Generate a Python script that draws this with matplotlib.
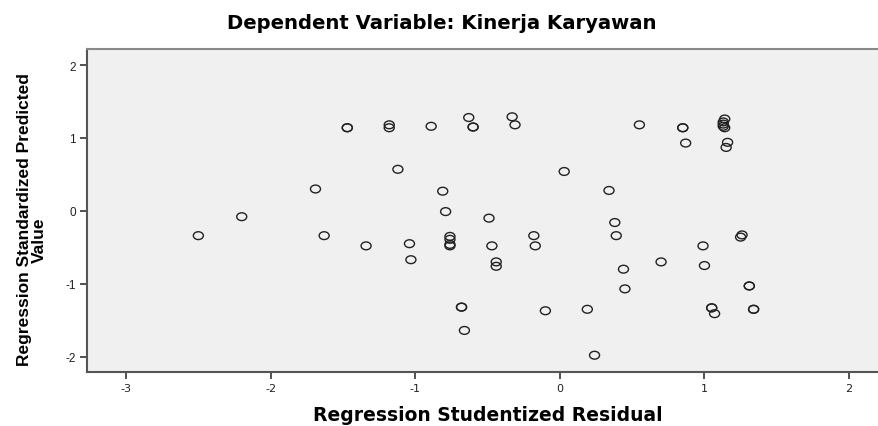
import matplotlib
matplotlib.use("Agg")
import matplotlib.pyplot as plt
from matplotlib.path import Path
from matplotlib.transforms import Affine2D

plt.rcParams['font.family'] = ['Liberation Sans', 'DejaVu Sans']

title = "Dependent Variable: Kinerja Karyawan"
x_label = "Regression Studentized Residual"
y_label_1 = "Regression Standardized Predicted"
y_label_2 = "Value"
x_ticks = [-3, -2, -1, 0, 1, 2]
y_ticks = [-2, -1, 0, 1, 2]

residual = [
    -1.47, -1.47, -1.18, -1.18, -0.89, -0.63, -0.60, -0.60,
    -1.12, -1.69, -0.81, -0.79, -2.20, -2.50, -1.63,
    -0.76, -0.76, -0.76, -0.76,
    -0.33, -0.31, 0.55, 0.85, 0.85, 0.87,
    1.14, 1.13, 1.13, 1.13, 1.14, 1.16, 1.15,
    0.03, 0.34, -0.49, 0.38, -0.18, 0.39, 1.26, 1.25,
    -1.34, -1.04, -1.03, -0.68, -0.68, -0.66,
    -0.47, -0.17, -0.44, -0.44, 0.44, 0.45, 0.70, 0.99, 1.00,
    1.31, 1.31, 1.34, 1.34, 1.05, 1.05, 1.07, -0.10, 0.19, 0.24,
]
predicted = [
    1.14, 1.14, 1.18, 1.14, 1.16, 1.28, 1.15, 1.15,
    0.57, 0.30, 0.27, -0.01, -0.08, -0.34, -0.34,
    -0.35, -0.39, -0.46, -0.48,
    1.29, 1.18, 1.18, 1.14, 1.14, 0.93,
    1.26, 1.22, 1.19, 1.16, 1.14, 0.94, 0.87,
    0.54, 0.28, -0.10, -0.16, -0.34, -0.34, -0.33, -0.36,
    -0.48, -0.45, -0.67, -1.32, -1.32, -1.64,
    -0.48, -0.48, -0.70, -0.76, -0.80, -1.07, -0.70, -0.48, -0.75,
    -1.03, -1.03, -1.35, -1.35, -1.33, -1.33, -1.41, -1.37, -1.35, -1.98,
]

W, H = 879, 427
fig = plt.figure(figsize=(W / 100, H / 100), dpi=100)
left, right, top, bottom = 87, 891, 50, 373
ax = fig.add_axes([left / W, 1 - bottom / H, (right - left) / W, (bottom - top) / H])
ax.set_facecolor('#F0F0F0')

# slightly wide ellipse marker (the reference circles are horizontally stretched)
ellipse = Path.unit_circle().transformed(Affine2D().scale(1.0, 0.78))

ax.scatter(residual, predicted, s=52, marker=ellipse, facecolors='none',
           edgecolors='#222222', linewidths=1.0, zorder=3)

ax.set_xlim(-3.27, 2.29)
ax.set_ylim(-2.21, 2.22)
ax.set_xticks(x_ticks)
ax.set_yticks(y_ticks)
ax.set_xticklabels([str(t) for t in x_ticks])
ax.set_yticklabels([str(t) for t in y_ticks])
ax.tick_params(direction='out', length=5, width=1.2, colors='#333333',
               labelsize=8.5, labelcolor='#222222', pad=3)
for lab in ax.get_xticklabels():
    lab.set_fontfamily('DejaVu Sans')
    lab.set_fontsize(8)

for side in ['left', 'bottom']:
    ax.spines[side].set_color('#555555')
    ax.spines[side].set_linewidth(1.5)
ax.spines['top'].set_color('#888888')
ax.spines['top'].set_linewidth(1.5)
ax.spines['right'].set_color('#888888')

renderer = fig.canvas.get_renderer()


def fit(txt, target, vertical=False):
    # adjust font size so the text's extent along its baseline matches target px
    for _ in range(4):
        bb = txt.get_window_extent(renderer)
        cur = bb.height if vertical else bb.width
        txt.set_fontsize(txt.get_fontsize() * target / cur)


t_title = fig.text(442 / W, 1 - 29 / H, title, ha='center', va='baseline',
                   fontsize=13, fontweight='bold', family='DejaVu Sans')
fit(t_title, 430)

t_x = fig.text(488 / W, 1 - 421 / H, x_label, ha='center', va='baseline',
               fontsize=11, fontweight='bold', family='DejaVu Sans')
fit(t_x, 351)

t_y1 = fig.text(25 / W, 1 - 220 / H, y_label_1, ha='center', va='center',
                rotation=90, fontsize=12, fontweight='bold')
fit(t_y1, 296, vertical=True)
t_y2 = fig.text(39 / W, 1 - 240 / H, y_label_2, ha='center', va='center',
                rotation=90, fontsize=t_y1.get_fontsize(), fontweight='bold')

fig.savefig('out.png', dpi=100)
